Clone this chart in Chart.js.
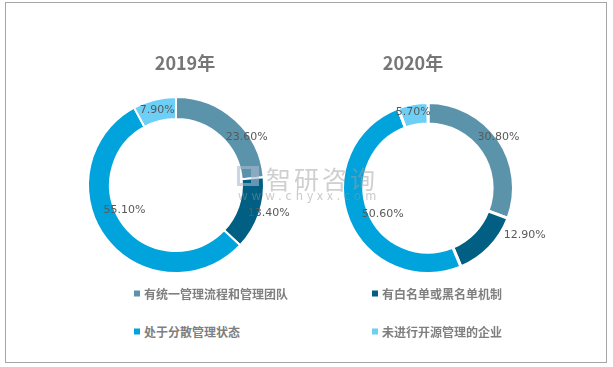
<!DOCTYPE html>
<html>
<head>
<meta charset="utf-8">
<script src="https://cdn.jsdelivr.net/npm/chart.js@4"></script>
<style>
  body { margin: 0; background: #fff; font-family: "Noto Sans CJK SC", "Noto Sans", sans-serif; }
  #frame { position: absolute; left: 5px; top: 2px; width: 600px; height: 359px; border: 1px solid #a6a6a6; }
  .box { position: absolute; }
  .title { position: absolute; font-size: 18px; font-weight: bold; color: #767676; transform: translate(-50%, -50%); white-space: nowrap; }
  .leg { position: absolute; font-size: 12px; font-weight: bold; color: #7f7f7f; white-space: nowrap; transform: translateY(-50%); }
  .leg i { display: inline-block; width: 6px; height: 6px; margin-right: 4px; vertical-align: 2px; }
  #wmlogo { position: absolute; left: 237px; top: 166px; width: 22px; height: 20px; border: 3px solid rgba(170,185,210,0.6); border-right-width: 8px; box-sizing: border-box; }
  #wm1 { position: absolute; left: 266px; top: 160px; font-size: 25px; color: rgba(160,160,160,0.5); letter-spacing: 3px; }
  #wm2 { position: absolute; left: 238px; top: 186px; font-size: 12px; color: rgba(150,150,150,0.5); letter-spacing: 4px; }
</style>
</head>
<body>
<div id="frame"></div>
<div class="box" style="left:46px;top:55px;width:260px;height:260px;"><canvas id="c2019"></canvas></div>
<div class="box" style="left:298px;top:58px;width:260px;height:260px;"><canvas id="c2020"></canvas></div>
<div id="wmlogo"></div>
<div id="wm1">智研咨询</div>
<div id="wm2">www.chyxx.com</div>
<div class="title" style="left:185px;top:62px;">2019年</div>
<div class="title" style="left:413px;top:62px;">2020年</div>
<div id="legend"></div>
<script>
// 类别与数值
const categories = ['有统一管理流程和管理团队', '有白名单或黑名单机制', '处于分散管理状态', '未进行开源管理的企业'];
const values2019 = [23.6, 13.4, 55.1, 7.9];
const values2020 = [30.8, 12.9, 50.6, 5.7];
const colors = ['#5b93aa', '#005f83', '#00a3db', '#6dcff6'];

// 标签位置: [角度, 半径系数]
const labelPos2019 = [[56, 0.97], [106.6, 1.1], [244, 0.65], [346, 0.88]];
const labelPos2020 = [[54, 1.02], [116, 1.26], [240.5, 0.61], [349, 0.9]];

const pctLabels = {
  id: 'pctLabels',
  afterDatasetsDraw(chart, args, opts) {
    const ctx = chart.ctx;
    const meta = chart.getDatasetMeta(0);
    const data = chart.data.datasets[0].data;
    ctx.save();
    ctx.font = '11px "DejaVu Sans", "Liberation Sans", sans-serif';
    ctx.fillStyle = '#595959';
    ctx.textAlign = 'center';
    ctx.textBaseline = 'middle';
    meta.data.forEach((arc, i) => {
      const p = opts.pos[i];
      const a = p[0] * Math.PI / 180;
      const r = arc.outerRadius * p[1];
      ctx.fillText(data[i].toFixed(2) + '%', arc.x + r * Math.sin(a), arc.y - r * Math.cos(a));
    });
    ctx.restore();
  }
};

function makeChart(id, values, pos, pad, bw) {
  new Chart(document.getElementById(id), {
    type: 'doughnut',
    data: {
      labels: categories,
      datasets: [{
        data: values,
        backgroundColor: colors,
        borderColor: '#ffffff',
        borderWidth: bw
      }]
    },
    options: {
      responsive: true,
      maintainAspectRatio: false,
      animation: false,
      cutout: '75%',
      layout: { padding: pad },
      plugins: {
        legend: { display: false },
        tooltip: { enabled: false },
        pctLabels: { pos: pos }
      }
    },
    plugins: [pctLabels]
  });
}

makeChart('c2019', values2019, labelPos2019, 41, 2);
makeChart('c2020', values2020, labelPos2020, 43, 3);

// 图例
const legendSpots = [[134, 293], [372, 293], [134, 331], [372, 331]];
const lg = document.getElementById('legend');
categories.forEach((c, i) => {
  const d = document.createElement('div');
  d.className = 'leg';
  d.style.left = legendSpots[i][0] + 'px';
  d.style.top = legendSpots[i][1] + 'px';
  d.innerHTML = '<i style="background:' + colors[i] + '"></i>' + c;
  lg.appendChild(d);
});
</script>
</body>
</html>
